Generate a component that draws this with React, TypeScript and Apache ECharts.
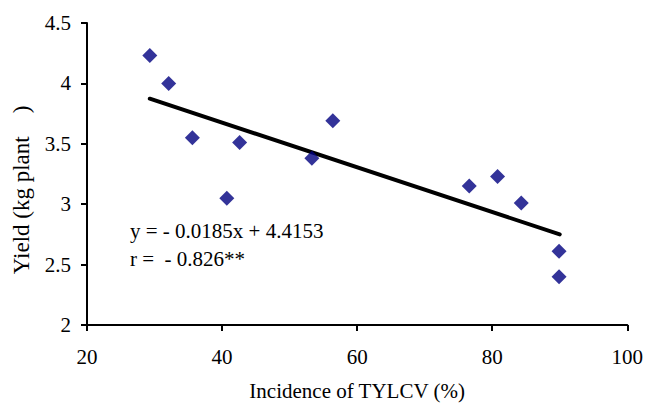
import React, { useEffect, useRef } from "react";
import * as echarts from "echarts";

const incidence = [29.3, 32.1, 35.6, 42.6, 40.7, 53.3, 56.4, 76.6, 80.8, 84.3, 89.9, 89.9];
const yieldKg = [4.23, 4.0, 3.55, 3.51, 3.05, 3.38, 3.69, 3.15, 3.23, 3.01, 2.61, 2.40];
const slope = -0.0185;
const intercept = 4.4153;
const trendX = [29.3, 90];
const equationLines = ["y = - 0.0185x + 4.4153", "r =  - 0.826**"];
const xTitle = "Incidence of TYLCV (%)";
const yTitle = "Yield (kg plant    )";

const FONT = '"Times New Roman", "Liberation Serif", serif';

export default function App() {
  const ref = useRef<HTMLDivElement>(null);
  useEffect(() => {
    if (!ref.current) return;
    const chart = echarts.init(ref.current, null, { renderer: "svg" });
    const grid = { left: 87, right: 17.3, top: 23, bottom: 75 };
    const txt = { fontFamily: FONT, fontSize: 21, color: "#000", fontWeight: "normal" as const };
    chart.setOption({
      animation: false,
      backgroundColor: "#fff",
      textStyle: { fontFamily: FONT },
      grid: { ...grid, containLabel: false },
      xAxis: {
        type: "value",
        min: 20,
        max: 100,
        interval: 20,
        name: xTitle,
        nameLocation: "middle",
        nameGap: 55,
        nameTextStyle: { ...txt },
        axisLine: { show: true, onZero: false, lineStyle: { color: "#000", width: 2 } },
        axisTick: { show: true, length: 6, lineStyle: { color: "#000", width: 2 } },
        axisLabel: { ...txt, margin: 21 },
        splitLine: { show: false },
      },
      yAxis: {
        type: "value",
        min: 2,
        max: 4.5,
        interval: 0.5,
        axisLine: { show: true, onZero: false, lineStyle: { color: "#000", width: 2 } },
        axisTick: { show: true, length: 6, lineStyle: { color: "#000", width: 2 } },
        axisLabel: { ...txt, margin: 16 },
        splitLine: { show: false },
      },
      graphic: [
        {
          type: "text",
          x: 21,
          y: 190,
          rotation: Math.PI / 2,
          style: {
            text: yTitle,
            fontFamily: FONT,
            fontSize: 23,
            fill: "#000",
            textAlign: "center",
            textVerticalAlign: "middle",
          },
        },
        {
          type: "text",
          x: 130,
          y: 231,
          style: {
            text: equationLines[0],
            fontFamily: FONT,
            fontSize: 21,
            fill: "#000",
            textAlign: "left",
            textVerticalAlign: "middle",
          },
        },
        {
          type: "text",
          x: 130,
          y: 259,
          style: {
            text: equationLines[1],
            fontFamily: FONT,
            fontSize: 21,
            fill: "#000",
            textAlign: "left",
            textVerticalAlign: "middle",
          },
        },
      ],
      series: [
        {
          type: "line",
          data: trendX.map((x) => [x, slope * x + intercept]),
          symbol: "none",
          lineStyle: { color: "#000", width: 4, cap: "round" },
          z: 2,
        },
        {
          type: "scatter",
          data: incidence.map((x, i) => [x, yieldKg[i]]),
          symbol: "diamond",
          symbolSize: [15, 15],
          itemStyle: { color: "#000080" },
          z: 3,
        },
      ],
    });
    return () => chart.dispose();
  }, []);
  return <div ref={ref} style={{ width: 646, height: 406, position: "absolute", left: 0, top: 0 }} />;
}
